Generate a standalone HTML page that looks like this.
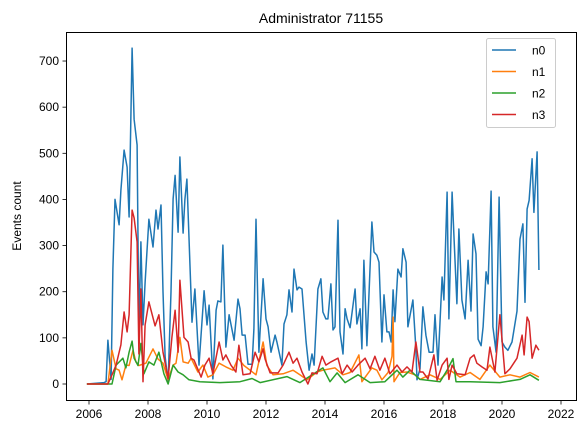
<!DOCTYPE html>
<html><head><meta charset="utf-8"><style>
body{margin:0;background:#fff;}
svg{display:block;font-family:"Liberation Sans","DejaVu Sans",sans-serif;}
</style></head><body>
<svg id="chart" width="586" height="435" viewBox="0 0 586 435" xmlns="http://www.w3.org/2000/svg">
<rect x="0" y="0" width="586" height="435" fill="#fff"/>
<text x="321" y="23" font-size="14" text-anchor="middle">Administrator 71155</text>
<text x="21" y="216" font-size="12" text-anchor="middle" transform="rotate(-90 21 216)">Events count</text>
<g id="grid"></g>
<g id="series"></g>
<rect x="66.5" y="32.5" width="510" height="368" fill="none" stroke="#000" stroke-width="1"/>
<g>
<rect x="486.5" y="38.5" width="69" height="89" rx="2" fill="#fff" fill-opacity="0.8" stroke="#ccc"/>
<g id="legend-items"></g>
</g>
</svg>
<script>
const yTicks=[0,100,200,300,400,500,600,700];
const xTicks=[2006,2008,2010,2012,2014,2016,2018,2020,2022];
const seriesNames=["n0","n1","n2","n3"];
const seriesColors=["#1f77b4","#ff7f0e","#2ca02c","#d62728"];
const baseYear=2006;
const n0YearOffset=[-0.07,0.51,0.58,0.64,0.75,0.81,0.88,1.02,1.08,1.19,1.29,1.36,1.46,1.53,1.63,1.69,1.76,1.83,1.90,2.03,2.17,2.27,2.34,2.44,2.51,2.58,2.68,2.78,2.85,2.92,3.02,3.08,3.19,3.25,3.32,3.49,3.59,3.73,3.90,4.00,4.07,4.20,4.31,4.37,4.47,4.54,4.64,4.75,4.81,4.92,5.05,5.12,5.19,5.29,5.39,5.53,5.59,5.66,5.76,5.90,6.00,6.07,6.17,6.31,6.37,6.54,6.61,6.71,6.78,6.88,6.95,7.05,7.12,7.22,7.36,7.46,7.56,7.63,7.76,7.86,7.93,8.03,8.10,8.20,8.27,8.34,8.44,8.51,8.61,8.68,8.75,8.85,9.02,9.08,9.19,9.25,9.32,9.42,9.59,9.66,9.76,9.83,9.93,10.00,10.10,10.17,10.24,10.31,10.37,10.47,10.58,10.64,10.75,10.81,10.98,11.08,11.12,11.22,11.32,11.42,11.53,11.66,11.73,11.83,11.97,12.03,12.14,12.20,12.31,12.37,12.47,12.54,12.64,12.75,12.85,12.95,13.02,13.12,13.19,13.29,13.36,13.46,13.53,13.63,13.69,13.80,13.90,14.00,14.10,14.20,14.34,14.51,14.61,14.71,14.78,14.85,14.92,15.02,15.08,15.19,15.25];
const n0Values=[0,3,5,95,10,250,400,345,420,507,470,362,728,574,518,113,308,128,220,357,297,377,336,388,200,60,4,200,401,452,329,492,327,400,444,134,206,41,202,128,171,11,160,180,178,301,80,150,130,95,184,163,106,106,43,43,119,357,69,228,141,124,69,106,91,41,130,150,204,156,249,204,210,206,91,30,65,41,206,228,156,141,141,217,117,124,355,113,65,163,141,122,206,130,163,76,268,83,351,286,279,264,91,193,113,113,91,204,135,249,232,293,264,124,182,76,9,33,167,106,69,69,150,41,232,182,416,141,416,323,174,336,182,141,268,158,325,282,97,83,124,243,217,418,124,69,405,91,80,73,91,158,314,347,177,379,398,488,372,503,247];
const n1YearOffset=[-0.07,0.64,0.78,0.92,1.02,1.12,1.25,1.36,1.49,1.59,1.69,1.93,2.17,2.34,2.51,2.68,2.85,2.95,3.08,3.19,3.36,3.46,3.69,3.86,4.03,4.20,4.41,4.64,4.88,5.05,5.25,5.46,5.66,5.90,6.03,6.24,6.58,6.92,7.15,7.39,7.73,7.93,8.34,8.61,8.85,9.15,9.25,9.59,9.76,9.93,10.14,10.27,10.31,10.34,10.54,10.78,11.05,11.22,11.56,11.90,12.24,12.58,12.92,13.25,13.59,13.93,14.27,14.61,14.95,15.25];
const n1Values=[0,0,73,33,30,9,41,40,73,48,40,45,76,54,45,9,41,45,101,48,45,56,26,41,15,20,45,37,30,56,40,30,20,91,40,20,22,30,20,9,26,30,35,20,25,63,5,35,30,9,25,60,145,5,25,26,20,10,20,10,30,15,25,10,41,15,20,15,25,15];
const n2YearOffset=[-0.07,0.78,0.92,1.15,1.25,1.36,1.46,1.53,1.66,1.76,1.86,2.03,2.20,2.37,2.54,2.68,2.85,3.02,3.19,3.39,3.76,4.44,5.12,5.53,5.80,6.71,7.15,7.93,8.17,8.41,8.68,9.12,9.53,10.03,10.44,10.64,10.88,11.22,11.90,12.14,12.34,12.44,12.92,13.93,14.61,14.95,15.25];
const n2Values=[0,0,41,56,35,69,93,56,40,88,22,48,41,69,22,0,41,26,20,9,5,3,5,12,3,16,3,35,5,24,3,20,3,5,30,15,30,10,5,30,55,5,5,3,10,20,8];
const n3YearOffset=[-0.07,0.64,0.78,0.92,1.08,1.19,1.29,1.36,1.46,1.53,1.63,1.69,1.76,1.83,1.90,2.03,2.24,2.37,2.51,2.68,2.81,2.92,3.02,3.08,3.22,3.36,3.46,3.56,3.73,3.80,3.93,4.07,4.20,4.41,4.54,4.64,4.81,4.98,5.08,5.22,5.46,5.63,5.76,5.90,5.97,6.14,6.41,6.58,6.78,6.92,7.05,7.22,7.42,7.56,7.73,7.90,8.03,8.20,8.44,8.58,8.75,8.92,9.12,9.36,9.53,9.69,9.86,10.03,10.20,10.44,10.61,10.78,10.95,11.08,11.22,11.32,11.49,11.69,11.80,11.97,12.14,12.20,12.31,12.47,12.75,12.92,13.05,13.15,13.32,13.49,13.59,13.76,13.93,14.10,14.27,14.51,14.68,14.75,14.85,14.92,15.02,15.15,15.25];
const n3Values=[0,0,20,41,85,156,113,150,377,360,308,65,206,5,128,178,126,150,69,12,101,160,69,225,101,91,56,52,26,15,41,56,22,91,52,63,41,26,84,20,22,69,48,76,54,24,24,41,69,45,56,26,0,24,22,60,41,48,56,22,41,26,41,56,33,60,30,56,22,41,26,37,26,91,26,26,11,63,8,41,56,10,41,22,20,56,63,45,37,30,80,26,150,22,33,56,106,63,145,135,56,84,73];

const NS="http://www.w3.org/2000/svg";
function xScale(yr){return 89+(yr-2006)*29.5;}
function yScale(v){return 384-v*0.4614;}
const grid=document.getElementById('grid');
function mk(tag,attrs,parent){const e=document.createElementNS(NS,tag);for(const k in attrs)e.setAttribute(k,attrs[k]);parent.appendChild(e);return e;}
yTicks.forEach(t=>{
  const y=yScale(t);
  const tk=mk('line',{x1:62.5,x2:66.5,y1:y,y2:y,stroke:'#000','stroke-width':0.8},grid);
  
  
  const lb=mk('text',{x:59,y:y+4,'font-size':12,'text-anchor':'end'},grid);
  lb.textContent=t;
  
  
});
xTicks.forEach(t=>{
  const x=xScale(t);
  const tk=mk('line',{x1:x,x2:x,y1:400.5,y2:404.5,stroke:'#000','stroke-width':0.8},grid);
  
  
  const lb=mk('text',{x:x,y:418,'font-size':12,'text-anchor':'middle'},grid);
  lb.textContent=t;
  
  
});
const seriesOffsets=[n0YearOffset,n1YearOffset,n2YearOffset,n3YearOffset];
const seriesValues=[n0Values,n1Values,n2Values,n3Values];
const sg=document.getElementById('series');
seriesNames.forEach((nm,i)=>{
  const off=seriesOffsets[i],vals=seriesValues[i];
  const pts=vals.map((v,j)=>xScale(baseYear+off[j]).toFixed(1)+','+yScale(v).toFixed(1)).join(' ');
  const pl=mk('polyline',{points:pts,fill:'none',stroke:seriesColors[i],'stroke-width':1.5,'stroke-linejoin':'round'},sg);
  
  
});
const lg=document.getElementById('legend-items');
seriesNames.forEach((nm,i)=>{
  const y=50+i*21.5;
  const ln=mk('line',{x1:492,x2:516,y1:y,y2:y,stroke:seriesColors[i],'stroke-width':1.5},lg);
  
  
  const tx=mk('text',{x:532,y:y+4.5,'font-size':12},lg);
  tx.textContent=nm;
  
  
});
</script>
</body></html>
